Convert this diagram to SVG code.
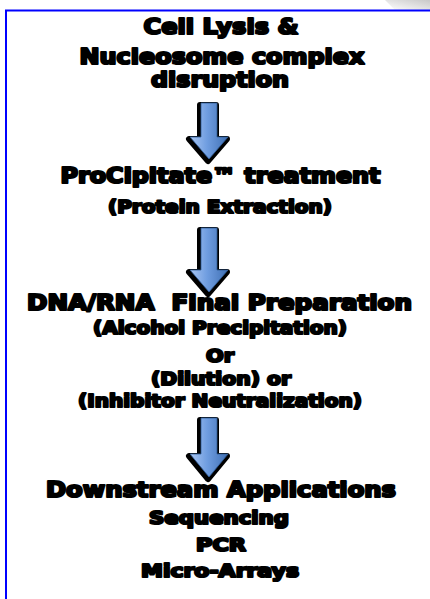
<svg xmlns="http://www.w3.org/2000/svg" width="430" height="599" viewBox="0 0 430 599">
  <defs>
    <linearGradient id="blue" x1="0" y1="0" x2="1" y2="0">
      <stop offset="0" stop-color="#a9c6f2"/>
      <stop offset="0.45" stop-color="#6f9de0"/>
      <stop offset="1" stop-color="#3f6fb3"/>
    </linearGradient>
    <linearGradient id="corner" x1="0" y1="1" x2="1" y2="0">
      <stop offset="0" stop-color="#ffffff"/>
      <stop offset="1" stop-color="#c8c8c8"/>
    </linearGradient>
    <filter id="blur" x="-30%" y="-30%" width="160%" height="160%">
      <feGaussianBlur stdDeviation="0.6"/>
    </filter>
  </defs>
  <style>
    text { font-family: "DejaVu Sans", Verdana, sans-serif; font-weight: bold; fill: #000; stroke: #000; stroke-width: 2.2; stroke-linejoin: round; text-anchor: middle; }
    .big { font-size: 21px; }
    .small { font-size: 18px; }
    .shadow { fill: #000; stroke: #000; stroke-width: 6; stroke-linejoin: round; filter: url(#blur); }
    .arrow { fill: url(#blue); stroke: #2f5a96; stroke-width: 0.8; }
  </style>
  <rect width="430" height="599" fill="#ffffff"/>
  <polygon points="385,0 430,0 430,10 395,10" fill="url(#corner)"/>
  <rect x="6" y="10.5" width="440" height="600" fill="none" stroke="#0000ff" stroke-width="2"/>

  <g id="connectors">
    <g id="arrow1">
      <path class="shadow" transform="translate(-1,2)" d="M201 103 L217 103 L217 137 L228 137 L209 159 L190 137 L201 137 Z"/>
      <path class="arrow" d="M201 103 L217 103 L217 137 L228 137 L209 159 L190 137 L201 137 Z"/>
    </g>
    <g id="arrow2">
      <path class="shadow" transform="translate(-1,2)" d="M201 228 L217 228 L217 270 L228 270 L209 292 L190 270 L201 270 Z"/>
      <path class="arrow" d="M201 228 L217 228 L217 270 L228 270 L209 292 L190 270 L201 270 Z"/>
    </g>
    <g id="arrow3">
      <path class="shadow" transform="translate(-1,2)" d="M201 418 L217 418 L217 454 L228 454 L209 477 L190 454 L201 454 Z"/>
      <path class="arrow" d="M201 418 L217 418 L217 454 L228 454 L209 477 L190 454 L201 454 Z"/>
    </g>
  </g>

  <g id="step1">
    <text class="big" x="221" y="34" textLength="155" lengthAdjust="spacingAndGlyphs">Cell Lysis &amp;</text>
    <text class="big" x="222" y="64" textLength="285" lengthAdjust="spacingAndGlyphs">Nucleosome complex</text>
    <text class="big" x="220" y="87" textLength="138" lengthAdjust="spacingAndGlyphs">disruption</text>
  </g>

  <g id="step2">
    <text class="big" x="220.5" y="183" textLength="320" lengthAdjust="spacingAndGlyphs">ProCipitate™ treatment</text>
    <text class="small" x="220" y="213" textLength="224" lengthAdjust="spacingAndGlyphs">(Protein Extraction)</text>
  </g>

  <g id="step3">
    <text class="big" x="219.5" y="310" textLength="385" lengthAdjust="spacingAndGlyphs" xml:space="preserve">DNA/RNA  Final Preparation</text>
    <text class="small" x="220" y="334" textLength="254" lengthAdjust="spacingAndGlyphs">(Alcohol Precipitation)</text>
    <text class="small" x="220" y="362" textLength="28" lengthAdjust="spacingAndGlyphs">Or</text>
    <text class="small" x="221" y="385" textLength="140" lengthAdjust="spacingAndGlyphs">(Dilution) or</text>
    <text class="small" x="220" y="407" textLength="284" lengthAdjust="spacingAndGlyphs">(Inhibitor Neutralization)</text>
  </g>

  <g id="step4">
    <text class="big" x="221" y="497" textLength="350" lengthAdjust="spacingAndGlyphs">Downstream Applications</text>
    <text class="small" x="219" y="524" textLength="140" lengthAdjust="spacingAndGlyphs">Sequencing</text>
    <text class="small" x="221" y="551" textLength="50" lengthAdjust="spacingAndGlyphs">PCR</text>
    <text class="small" x="220" y="577" textLength="158" lengthAdjust="spacingAndGlyphs">Micro-Arrays</text>
  </g>
</svg>
